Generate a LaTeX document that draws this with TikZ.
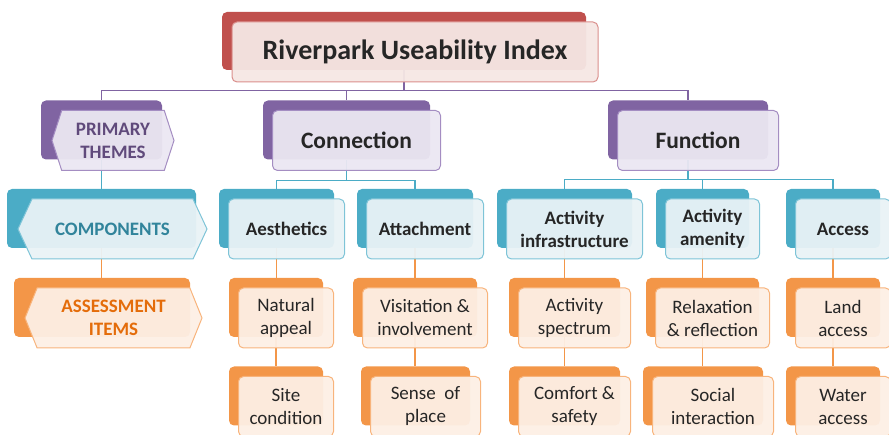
\documentclass[tikz,border=0pt]{standalone}
\usepackage{fontspec}
\setmainfont{Carlito}
\usetikzlibrary{shapes.symbols}

\definecolor{idxRed}{HTML}{C0504D}
\definecolor{idxRedLine}{HTML}{DA8F8C}
\definecolor{idxRedPale}{HTML}{F5E7E4}
\definecolor{themePurple}{HTML}{8064A2}
\definecolor{themeLine}{HTML}{A48DC2}
\definecolor{themePale}{HTML}{EBE7F2}
\definecolor{themeText}{HTML}{604A7B}
\definecolor{compTeal}{HTML}{4BACC6}
\definecolor{compLine}{HTML}{7EC4D7}
\definecolor{compPale}{HTML}{E9F2F6}
\definecolor{compText}{HTML}{31849B}
\definecolor{itemOrange}{HTML}{F39648}
\definecolor{itemLine}{HTML}{F8B47C}
\definecolor{itemPale}{HTML}{FDEFE5}
\definecolor{itemText}{HTML}{E46C0A}
\definecolor{ink}{HTML}{262626}

\begin{document}
\begin{tikzpicture}[x=1pt, y=-1pt,
    back/.style={rounded corners=5pt, minimum height=59pt, inner sep=0pt},
    front/.style={draw, rounded corners=5pt, minimum height=60pt, inner sep=0pt,
        line width=1pt, fill opacity=0.95, text opacity=1, align=center, text=ink,
        font=\fontsize{19}{23}\selectfont},
    tag/.style={signal, signal to=east and west, draw, minimum height=60pt,
        inner sep=0pt, line width=1pt, fill opacity=0.95, text opacity=1,
        align=center, font=\fontsize{19}{23}\selectfont\bfseries},
    purpleback/.style={back, fill=themePurple},
    tealback/.style={back, fill=compTeal},
    orangeback/.style={back, fill=itemOrange},
    purplefront/.style={front, draw=themeLine, fill=themePale},
    tealfront/.style={front, draw=compLine, fill=compPale},
    orangefront/.style={front, draw=itemLine, fill=itemPale},
    link/.style={draw=#1, line width=1.3pt}]
    \useasboundingbox (0,0) rectangle (889,435);

    % Back plates
    \node[back, fill=idxRed, minimum width=364pt, minimum height=58pt] (index) at (404,41) {};
    \node[purpleback, minimum width=121pt] (primary) at (101.5,130) {};
    \node[purpleback, minimum width=167pt] (connection) at (346.5,130) {};
    \node[purpleback, minimum width=160pt] (function) at (688,130) {};

    \node[tealback, minimum width=189pt] (components) at (101.5,218.5) {};
    \node[tealback, minimum width=115pt] (aesthetics) at (276.5,218.5) {};
    \node[tealback, minimum width=116pt] (attachment) at (415,218.5) {};
    \node[tealback, minimum width=135pt] (infrastructure) at (564.5,218.5) {};
    \node[tealback, minimum width=93pt] (amenity) at (702.5,218.5) {};
    \node[tealback, minimum width=94pt] (access) at (833,218.5) {};

    \node[orangeback, minimum width=176pt] (items) at (102,307.5) {};
    \node[orangeback, minimum width=94pt] (natural) at (276,307.5) {};
    \node[orangeback, minimum width=124pt] (visitation) at (415,307.5) {};
    \node[orangeback, minimum width=111pt] (spectrum) at (564.5,307.5) {};
    \node[orangeback, minimum width=113pt] (relaxation) at (702.5,307.5) {};
    \node[orangeback, minimum width=94pt] (land) at (833,307.5) {};

    \node[orangeback, minimum width=94pt] (site) at (276,396) {};
    \node[orangeback, minimum width=109pt] (sense) at (415.5,396) {};
    \node[orangeback, minimum width=111pt] (comfort) at (564.5,396) {};
    \node[orangeback, minimum width=120pt] (social) at (703,396) {};
    \node[orangeback, minimum width=94pt] (water) at (833,396) {};

    % Links
    \draw[link=themePurple] (index.south) -- ++(0,20) -| (primary.north);
    \draw[link=themePurple] (index.south) -- ++(0,20) -| (connection.north);
    \draw[link=themePurple] (index.south) -- ++(0,20) -| (function.north);

    \draw[link=compTeal] (primary.south) -- (components.north);
    \draw[link=compTeal] (connection.south) -- ++(0,20.5) -| (aesthetics.north);
    \draw[link=compTeal] (connection.south) -- ++(0,20.5) -| (attachment.north);
    \draw[link=compTeal] (function.south) -- ++(0,19.5) -| (infrastructure.north);
    \draw[link=compTeal] (function.south) -- ++(0,19.5) -| (amenity.north);
    \draw[link=compTeal] (function.south) -- ++(0,19.5) -| (access.north);

    \draw[link=itemOrange] (components.south) -- (components.south |- items.north);
    \draw[link=itemOrange] (aesthetics.south) -- (aesthetics.south |- natural.north);
    \draw[link=itemOrange] (attachment.south) -- (attachment.south |- visitation.north);
    \draw[link=itemOrange] (infrastructure.south) -- (infrastructure.south |- spectrum.north);
    \draw[link=itemOrange] (amenity.south) -- (amenity.south |- relaxation.north);
    \draw[link=itemOrange] (access.south) -- (access.south |- land.north);
    \draw[link=itemOrange] (natural.south) -- (natural.south |- site.north);
    \draw[link=itemOrange] (visitation.south) -- (visitation.south |- sense.north);
    \draw[link=itemOrange] (spectrum.south) -- (spectrum.south |- comfort.north);
    \draw[link=itemOrange] (relaxation.south) -- (relaxation.south |- social.north);
    \draw[link=itemOrange] (land.south) -- (land.south |- water.north);

    % Title card
    \node[front, draw=idxRedLine, fill=idxRedPale, minimum width=366pt,
        font=\fontsize{28}{32}\selectfont\bfseries] (indexF) at ([shift={(11,11)}]index.center)
        {Riverpark Useability Index};

    % Level tags on the left
    \node[tag, draw=themeLine, fill=themePale, text=themeText, minimum width=122pt,
        signal pointer angle=144] (primaryF) at (113,140.5) {PRIMARY\\THEMES};
    \node[tag, draw=compLine, fill=compPale, text=compText, minimum width=189pt,
        signal pointer angle=130] (componentsF) at (112.5,229) {COMPONENTS};
    \node[tag, draw=itemLine, fill=itemPale, text=itemText, minimum width=177pt,
        signal pointer angle=136] (itemsF) at (113.5,318) {ASSESSMENT\\ITEMS};

    % Themes
    \node[purplefront, minimum width=168pt, font=\fontsize{23.5}{28}\selectfont\bfseries]
        (connectionF) at ([shift={(10,10.5)}]connection.center) {Connection};
    \node[purplefront, minimum width=161pt, font=\fontsize{23.5}{28}\selectfont\bfseries]
        (functionF) at ([shift={(10,10.5)}]function.center) {Function};

    % Components
    \node[tealfront, minimum width=116pt, font=\fontsize{19}{23}\selectfont\bfseries]
        (aestheticsF) at ([shift={(10,10.5)}]aesthetics.center) {Aesthetics};
    \node[tealfront, minimum width=117pt, font=\fontsize{19}{23}\selectfont\bfseries]
        (attachmentF) at ([shift={(10,10.5)}]attachment.center) {Attachment};
    \node[tealfront, minimum width=136pt, font=\fontsize{19}{23}\selectfont\bfseries]
        (infrastructureF) at ([shift={(10,10.5)}]infrastructure.center) {Activity\\infrastructure};
    \node[tealfront, minimum width=94pt, font=\fontsize{19}{23}\selectfont\bfseries]
        (amenityF) at ([shift={(10,10.5)}]amenity.center) {Activity\\amenity};
    \node[tealfront, minimum width=95pt, font=\fontsize{19}{23}\selectfont\bfseries]
        (accessF) at ([shift={(10,10.5)}]access.center) {Access};

    % Assessment items
    \node[orangefront, minimum width=95pt] (naturalF) at ([shift={(10,10.5)}]natural.center) {Natural\\appeal};
    \node[orangefront, minimum width=125pt] (visitationF) at ([shift={(10,10.5)}]visitation.center) {Visitation \&\\involvement};
    \node[orangefront, minimum width=112pt] (spectrumF) at ([shift={(10,10.5)}]spectrum.center) {Activity\\spectrum};
    \node[orangefront, minimum width=114pt] (relaxationF) at ([shift={(10,10.5)}]relaxation.center) {Relaxation\\\& reflection};
    \node[orangefront, minimum width=95pt] (landF) at ([shift={(10,10.5)}]land.center) {Land\\access};

    \node[orangefront, minimum width=95pt] (siteF) at ([shift={(10,10.5)}]site.center) {Site\\condition};
    \node[orangefront, minimum width=110pt] (senseF) at ([shift={(10,10.5)}]sense.center) {Sense~ of\\place};
    \node[orangefront, minimum width=112pt] (comfortF) at ([shift={(10,10.5)}]comfort.center) {Comfort \&\\safety};
    \node[orangefront, minimum width=121pt] (socialF) at ([shift={(10,10.5)}]social.center) {Social\\interaction};
    \node[orangefront, minimum width=95pt] (waterF) at ([shift={(10,10.5)}]water.center) {Water\\access};
\end{tikzpicture}
\end{document}
